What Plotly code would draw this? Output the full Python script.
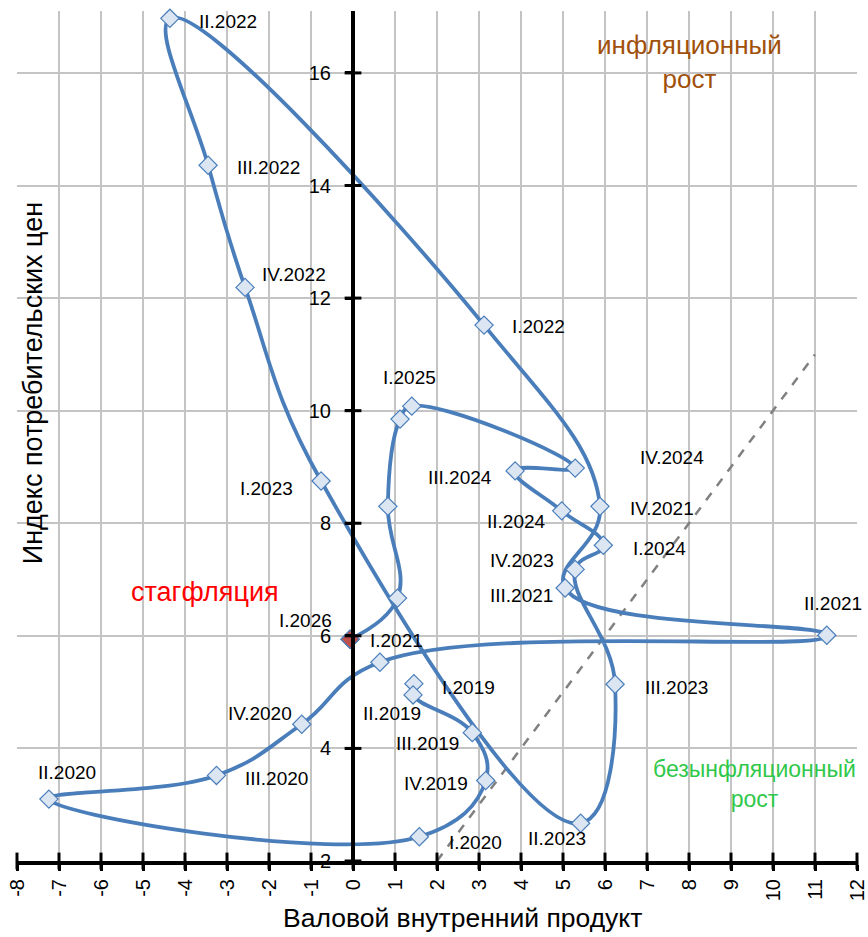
import plotly.graph_objects as go

# ---- data ----
quarters = ["I.2019", "II.2019", "III.2019", "IV.2019",
            "I.2020", "II.2020", "III.2020", "IV.2020",
            "I.2021", "II.2021", "III.2021", "IV.2021",
            "I.2022", "II.2022", "III.2022", "IV.2022",
            "I.2023", "II.2023", "III.2023", "IV.2023",
            "I.2024", "II.2024", "III.2024", "IV.2024",
            "I.2025", "II.2025", "III.2025", "IV.2025",
            "I.2026"]
gdp = [1.45, 1.43, 2.84, 3.16,
       1.58, -7.24, -3.25, -1.22,
       0.64, 11.28, 5.05, 5.88,
       3.12, -4.36, -3.45, -2.57,
       -0.76, 5.42, 6.24, 5.29,
       5.96, 4.97, 3.86, 5.29,
       1.40, 1.12, 0.83, 1.06,
       -0.07]
cpi = [5.15, 4.95, 4.28, 3.43,
       2.43, 3.10, 3.52, 4.43,
       5.53, 6.01, 6.85, 8.30,
       11.52, 16.97, 14.36, 12.19,
       8.75, 2.67, 5.14, 7.18,
       7.61, 8.22, 8.93, 8.98,
       10.08, 9.85, 8.30, 6.67,
       5.94]
shown_labels = ["I.2019", "II.2019", "III.2019", "IV.2019",
                "I.2020", "II.2020", "III.2020", "IV.2020",
                "I.2021", "II.2021", "III.2021", "IV.2021",
                "I.2022", "II.2022", "III.2022", "IV.2022",
                "I.2023", "II.2023", "III.2023", "IV.2023",
                "I.2024", "II.2024", "III.2024", "IV.2024",
                "I.2025", "", "", "",
                "I.2026"]
# label offsets in pixels (dx right, dy down)
label_dx = [55, -21, -45, -50,
            56, 18, 60, -42,
            17, 6, -44, 62,
            54, 58, 60, 49,
            -55, -24, 61, -53,
            56, -45, -55, 97,
            -2, 0, 0, 0,
            -45]
label_dy = [4, 19, 11, 3,
            6, -27, 3, -11,
            -22, -32, 8, 2,
            1, 3, 2, -13,
            7, 15, 3, -9,
            3, 11, 7, -11,
            -29, 0, 0, 0,
            -19]

diag_x = [2, 11]
diag_y = [2, 11]

x_ticks = list(range(-8, 13))
y_ticks = [2, 4, 6, 8, 10, 12, 14, 16]

FONT = "Liberation Sans, Arial, sans-serif"
BLUE = "#4A7EBB"

fig = go.Figure()

fig.add_trace(go.Scatter(x=diag_x, y=diag_y, mode="lines",
                         line=dict(color="#808080", width=2.5, dash="dash"),
                         hoverinfo="skip", showlegend=False))

fig.add_trace(go.Scatter(x=gdp, y=cpi, mode="lines+markers",
                         line=dict(color=BLUE, width=3.8, shape="spline", smoothing=1.2),
                         marker=dict(symbol="diamond", size=14, color="#DCE6F2",
                                     line=dict(color=BLUE, width=1.2)),
                         showlegend=False, cliponaxis=False))

fig.add_trace(go.Scatter(x=gdp[-1:], y=cpi[-1:], mode="markers",
                         marker=dict(symbol="diamond", size=14, color="#C0504D",
                                     line=dict(color=BLUE, width=1.2)),
                         showlegend=False, cliponaxis=False))

# crossing tick marks
fig.add_trace(go.Scatter(x=[0] * len(y_ticks), y=y_ticks, mode="markers",
                         marker=dict(symbol="line-ew", size=12,
                                     line=dict(color="black", width=3)),
                         hoverinfo="skip", showlegend=False, cliponaxis=False))
fig.add_trace(go.Scatter(x=x_ticks, y=[2] * len(x_ticks), mode="markers",
                         marker=dict(symbol="line-ns", size=12,
                                     line=dict(color="black", width=3)),
                         hoverinfo="skip", showlegend=False, cliponaxis=False))

annotations = []
for q, xv, yv, dx, dy in zip(shown_labels, gdp, cpi, label_dx, label_dy):
    if not q:
        continue
    annotations.append(dict(x=xv, y=yv, text=q, showarrow=False,
                            xshift=dx, yshift=-dy,
                            font=dict(family=FONT, size=19, color="black")))

annotations += [
    dict(x=8.0, y=16.2, text="инфляционный<br>рост", showarrow=False,
         font=dict(family=FONT, size=26, color="#A0500A")),
    dict(x=-3.52, y=6.78, text="стагфляция", showarrow=False,
         font=dict(family=FONT, size=27, color="#FF0000")),
    dict(x=9.57, y=3.37, text="безынфляционный<br>рост", showarrow=False,
         font=dict(family=FONT, size=23, color="#2FC84A")),
    dict(xref="paper", yref="paper", x=0.019, y=0.562, text="Индекс потребительских цен",
         xanchor="center", yanchor="middle",
         showarrow=False, textangle=-90,
         font=dict(family=FONT, size=27, color="black")),
    dict(xref="paper", yref="paper", x=0.53, y=-0.067, text="Валовой внутренний продукт",
         xanchor="center", yanchor="middle",
         showarrow=False, font=dict(family=FONT, size=26.5, color="black")),
]

fig.update_layout(
    width=868, height=937,
    margin=dict(l=17, r=11, t=11, b=76, autoexpand=False),
    paper_bgcolor="white", plot_bgcolor="white",
    annotations=annotations,
    xaxis=dict(range=[-8, 12], tickmode="array", tickvals=x_ticks,
               ticktext=[str(v) for v in x_ticks], tickangle=-90,
               automargin=False,
               showgrid=True, gridcolor="#C4C4C4", gridwidth=1.5,
               zeroline=False, showline=True, linecolor="black", linewidth=4,
               ticks="outside", ticklen=6, tickwidth=3, tickcolor="black",
               tickfont=dict(family=FONT, size=20, color="black")),
    yaxis=dict(range=[2, 17.1], tickmode="array", tickvals=y_ticks,
               ticktext=[str(v) for v in y_ticks],
               automargin=False,
               showgrid=True, gridcolor="#C4C4C4", gridwidth=1.5,
               zeroline=False, showline=True, linecolor="black", linewidth=4,
               anchor="free", position=0.4,
               ticks="outside", ticklen=6, tickwidth=3, tickcolor="black",
               ticklabelstandoff=10,
               tickfont=dict(family=FONT, size=20, color="black")),
)

fig.write_html("out.html", config={"displayModeBar": False},
               post_script="document.body.style.margin='0px';")
